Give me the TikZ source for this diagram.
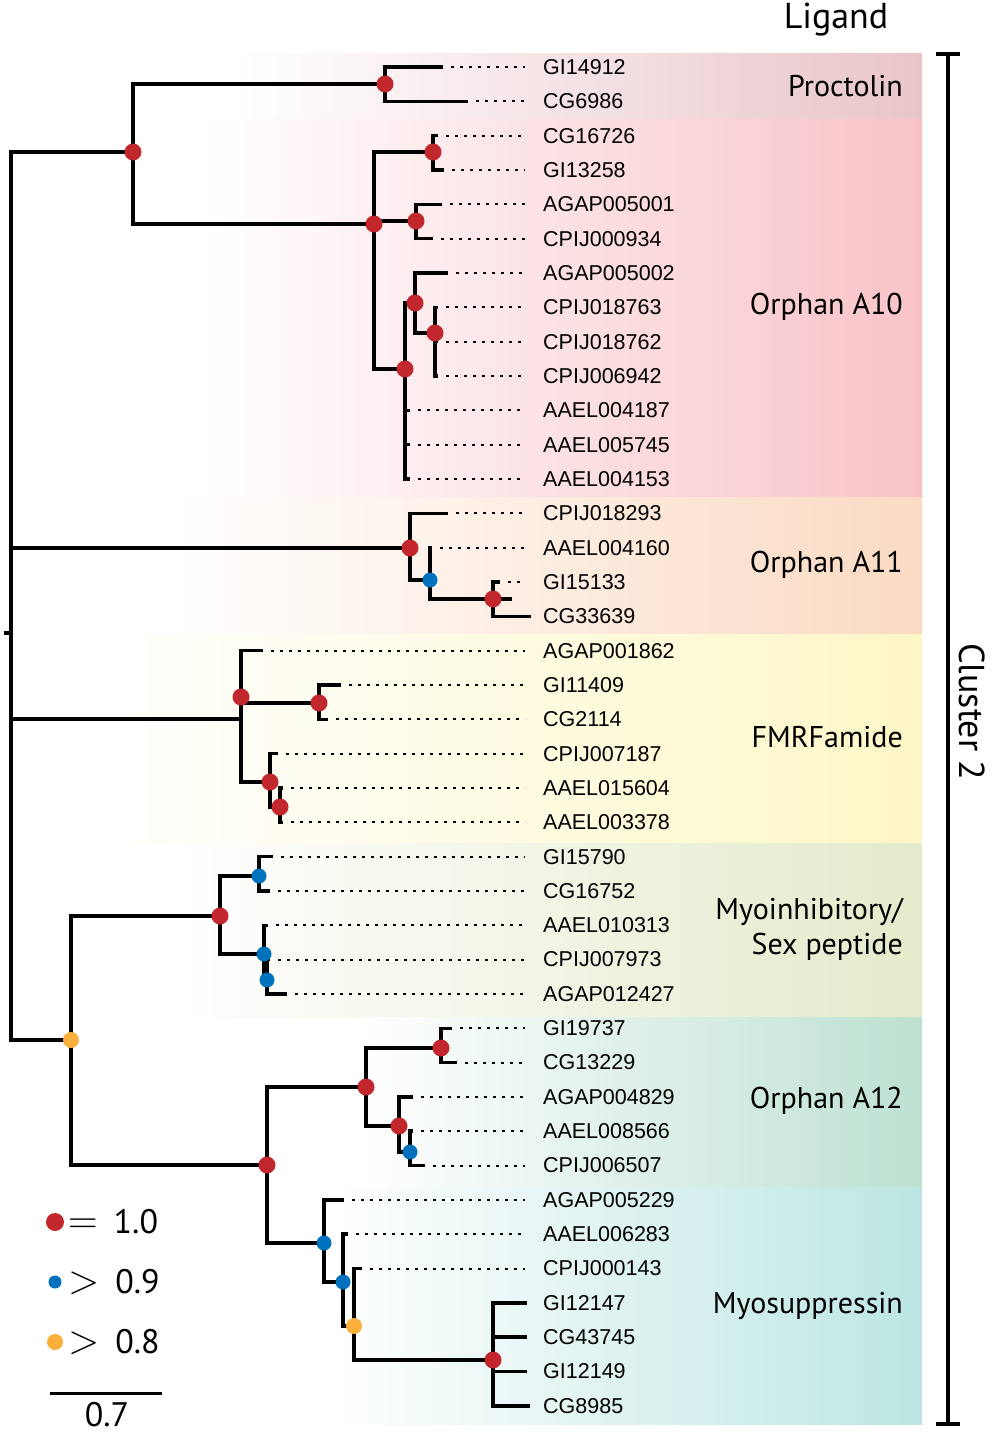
\RequirePackage{fix-cm}
\documentclass[tikz,border=0pt]{standalone}
\usepackage{fontspec}
\setmainfont{PT Sans}
\newfontfamily\leaffont{Liberation Sans}
\definecolor{bsred}{HTML}{C1272D}
\definecolor{bsblue}{HTML}{0071BC}
\definecolor{bsorange}{HTML}{FBB03B}
\definecolor{cProc}{HTML}{E9C5C9}
\definecolor{cOAten}{HTML}{F8C3C8}
\definecolor{cOAeleven}{HTML}{FADAC3}
\definecolor{cFMRF}{HTML}{FDF7C6}
\definecolor{cMIP}{HTML}{E3EBCB}
\definecolor{cOAtwelve}{HTML}{BDE1D1}
\definecolor{cMS}{HTML}{BCE6E3}
\newcommand\legsym[1]{{\fontsize{41}{41}\selectfont$#1$}}
\tikzset{
  branch/.style={line width=3.5pt},
  guide/.style={line width=2pt, dash pattern=on 3pt off 6pt, shorten >=18pt},
  leaf/.style={anchor=west, inner sep=0pt, font=\leaffont\fontsize{21.5}{21.5}\selectfont},
  clade/.style={anchor=east, inner sep=0pt, align=right, font=\fontsize{30}{35}\selectfont},
  title/.style={inner sep=0pt, font=\fontsize{36}{40}\selectfont},
  legtext/.style={anchor=west, inner sep=0pt, font=\fontsize{34}{40}\selectfont},
}
\begin{document}
\begin{tikzpicture}[x=1pt,y=-1pt]
  \useasboundingbox (0,0) rectangle (992,1437);
  % clade bands
  \foreach \x/\top/\bot/\col in {235/54/119/cProc, 200/119/497/cOAten,
      170/497/634/cOAeleven, 95/634/843/cFMRF, 170/843/1017/cMIP,
      360/1017/1187/cOAtwelve, 330/1187/1424/cMS}
    \shade[left color=white, right color=\col] (\x,\top) rectangle (922,\bot);
  % internal nodes
  \coordinate (root) at (11,633);
  \coordinate (pa) at (133,152);
  \coordinate (prc) at (385,84);
  \coordinate (a10) at (374,224);
  \coordinate (a10a) at (433,152);
  \coordinate (a10b) at (416,221);
  \coordinate (a10c) at (405,369);
  \coordinate (a10d) at (415,303);
  \coordinate (a10e) at (435,333);
  \coordinate (a11) at (410,548);
  \coordinate (a11b) at (430,580);
  \coordinate (a11c) at (493,599);
  \coordinate (fmrf) at (241,719);
  \coordinate (fmrfb) at (319,703);
  \coordinate (fmrfc) at (270,782);
  \coordinate (fmrfd) at (280,807);
  \coordinate (mip) at (71,1040);
  \coordinate (mipa) at (220,916);
  \coordinate (mipb) at (259,876);
  \coordinate (mipc) at (264,954);
  \coordinate (mipd) at (267,980);
  \coordinate (low) at (267,1165);
  \coordinate (a12) at (366,1087);
  \coordinate (a12b) at (441,1048);
  \coordinate (a12c) at (399,1126);
  \coordinate (a12d) at (410,1152);
  \coordinate (msa) at (324,1243);
  \coordinate (msb) at (343,1282);
  \coordinate (msc) at (354,1326);
  \coordinate (msd) at (493,1360);
  \foreach \up/\dn in {root/pa, root/a11, root/fmrf, root/mip, pa/prc, pa/a10,
      a10/a10a, a10/a10b, a10/a10c, a10c/a10d, a10d/a10e, a11/a11b, a11b/a11c,
      fmrf/fmrfb, fmrf/fmrfc, fmrfc/fmrfd, mip/mipa, mip/low, mipa/mipb,
      mipa/mipc, mipc/mipd, low/a12, low/msa, a12/a12b, a12/a12c, a12c/a12d,
      msa/msb, msb/msc, msc/msd}
    \draw[branch] (\up) |- (\dn);
  \draw[branch] (root) -- ++(-7,0);
  \draw[branch] (a11c) -- ++(19,0);
  % leaves
  \foreach \nm/\i/\tip/\up in {GI14912/0/443/prc, CG6986/1/468/prc,
      CG16726/2/438/a10a, GI13258/3/444/a10a, AGAP005001/4/442/a10b,
      CPIJ000934/5/433/a10b, AGAP005002/6/448/a10d, CPIJ018763/7/438/a10e,
      CPIJ018762/8/438/a10e, CPIJ006942/9/438/a10e, AAEL004187/10/410/a10c,
      AAEL005745/11/410/a10c, AAEL004153/12/410/a10c, CPIJ018293/13/448/a11,
      AAEL004160/14/432/a11b, GI15133/15/500/a11c, CG33639/16/531/a11c,
      AGAP001862/17/263/fmrf, GI11409/18/341/fmrfb, CG2114/19/328/fmrfb,
      CPIJ007187/20/278/fmrfc, AAEL015604/21/283/fmrfd, AAEL003378/22/283/fmrfd,
      GI15790/23/273/mipb, CG16752/24/270/mipb, AAEL010313/25/268/mipc,
      CPIJ007973/26/270/mipd, AGAP012427/27/287/mipd, GI19737/28/452/a12b,
      CG13229/29/457/a12b, AGAP004829/30/413/a12c, AAEL008566/31/413/a12d,
      CPIJ006507/32/425/a12d, AGAP005229/33/344/msa, AAEL006283/34/348/msb,
      CPIJ000143/35/362/msc, GI12147/36/527/msd, CG43745/37/527/msd,
      GI12149/38/527/msd, CG8985/39/530/msd}
  {
    \node[leaf] (\nm) at (543,{67+34.33*\i}) {\nm};
    \coordinate (\nm tip) at (\tip,{67+34.33*\i});
    \draw[branch] (\up) |- (\nm tip);
    \ifdim\tip pt<510pt \draw[guide] ([xshift=8pt]\nm tip) -- (\nm.west); \fi
  }
  % support values
  \foreach \n in {pa,prc,a10,a10a,a10b,a10c,a10d,a10e,a11,a11c,fmrfb,fmrfc,
      fmrfd,mipa,low,a12,a12b,a12c,msd}
    \fill[bsred] (\n) circle (8.5pt);
  \fill[bsred] (241,697) circle (8.5pt);
  \foreach \n in {a11b,mipb,mipc,mipd,a12d,msa,msb}
    \fill[bsblue] (\n) circle (7.5pt);
  \foreach \n in {mip,msc}
    \fill[bsorange] (\n) circle (8pt);
  % clade names
  \node[clade] (proctolin) at (903,86) {Proctolin};
  \node[clade] (oaten) at (903,307) {Orphan A10};
  \node[clade] (oaeleven) at (903,565) {Orphan A11};
  \node[clade] (fmrfamide) at (903,737) {FMRFamide};
  \node[clade] (mipsp) at (903,929) {Myoinhibitory/\\Sex peptide};
  \node[clade] (oatwelve) at (903,1101) {Orphan A12};
  \node[clade] (myosup) at (903,1306) {Myosuppressin};
  \node[title] (ligand) at (836,20) {Ligand};
  \draw[line width=3.5pt] (936,54) -- (960,54) (948,54) -- (948,1424)
    (936,1424) -- (960,1424);
  \node[title, rotate=-90] (cluster) at (972,712) {Cluster 2};
  % legend
  \fill[bsred] (55,1222) circle (9pt);
  \fill[bsblue] (55,1282) circle (6.5pt);
  \fill[bsorange] (55,1342) circle (8pt);
  \node[legtext] (leqone) at (68,1222) {\legsym{=}\hspace{16pt}1.0};
  \node[legtext] (lgtnine) at (68,1282) {\legsym{>}\hspace{16pt}0.9};
  \node[legtext] (lgteight) at (68,1342) {\legsym{>}\hspace{16pt}0.8};
  \coordinate (sbl) at (50,1393);
  \coordinate (sbr) at (162,1393);
  \draw[line width=3pt] (sbl) -- (sbr);
  \node[title, font=\fontsize{34}{40}\selectfont] (sblab) at (107,1415) {0.7};
\end{tikzpicture}
\end{document}
